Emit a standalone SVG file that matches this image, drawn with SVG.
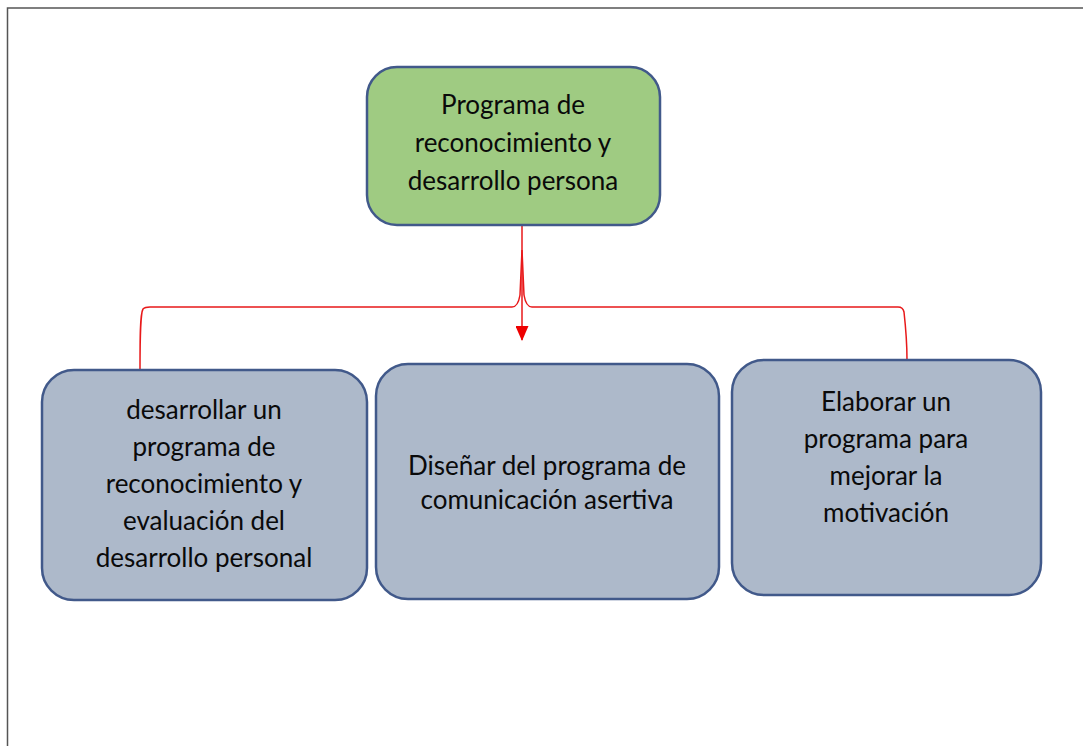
<svg xmlns="http://www.w3.org/2000/svg" width="1083" height="746" viewBox="0 0 1083 746">
  <style>
    .frame { fill: none; stroke: #555555; stroke-width: 1.5; }
    .box { stroke: #41598a; stroke-width: 2.5; }
    .root { fill: #9fcb82; }
    .leaf { fill: #adb9ca; }
    .label { font-family: Lato, "Open Sans", "Liberation Sans", sans-serif; font-size: 26px; fill: #0a0a0a; text-anchor: middle; }
    .link { fill: none; stroke: #e8191a; stroke-width: 1.5; }
  </style>
  <defs>
    <!-- arrowhead drawn pointing along +x so orient="auto" turns it downward -->
    <marker id="arrow" markerWidth="15" markerHeight="13" refX="14" refY="6.5" orient="auto" markerUnits="userSpaceOnUse" viewBox="0 0 15 13">
      <path d="M0,0 L15,6.5 L0,13 Z" fill="#ee0000"/>
    </marker>
  </defs>

  <rect width="1083" height="746" fill="#ffffff"/>
  <path class="frame" d="M7.5,746 V8 H1083"/>

  <g id="connectors">
    <line class="link" x1="522" y1="226" x2="522" y2="340" marker-end="url(#arrow)"/>
    <path class="link" d="M140,370 C140,340 140,314 143,309 Q145,307 150,307 H512 Q518,307 520,295 L522,250 L524,295 Q526,307 532,307 H898 Q903,307 904,312 C906,330 907,345 907,360"/>
  </g>

  <g id="node-root">
    <rect class="box root" x="367" y="67" width="293" height="158" rx="30"/>
    <text class="label" x="513" y="114">Programa de</text>
    <text class="label" x="513" y="152">reconocimiento y</text>
    <text class="label" x="513" y="190">desarrollo persona</text>
  </g>

  <g id="node-left">
    <rect class="box leaf" x="42" y="370" width="325" height="230" rx="32"/>
    <text class="label" x="204" y="419">desarrollar un</text>
    <text class="label" x="204" y="456">programa de</text>
    <text class="label" x="204" y="493">reconocimiento y</text>
    <text class="label" x="204" y="530">evaluación del</text>
    <text class="label" x="204" y="567">desarrollo personal</text>
  </g>

  <g id="node-middle">
    <rect class="box leaf" x="376" y="364" width="343" height="235" rx="32"/>
    <text class="label" x="547" y="475">Diseñar del programa de</text>
    <text class="label" x="547" y="509">comunicación asertiva</text>
  </g>

  <g id="node-right">
    <rect class="box leaf" x="732" y="360" width="309" height="235" rx="32"/>
    <text class="label" x="886" y="411">Elaborar un</text>
    <text class="label" x="886" y="448">programa para</text>
    <text class="label" x="886" y="485">mejorar la</text>
    <text class="label" x="886" y="522">motivación</text>
  </g>
</svg>
